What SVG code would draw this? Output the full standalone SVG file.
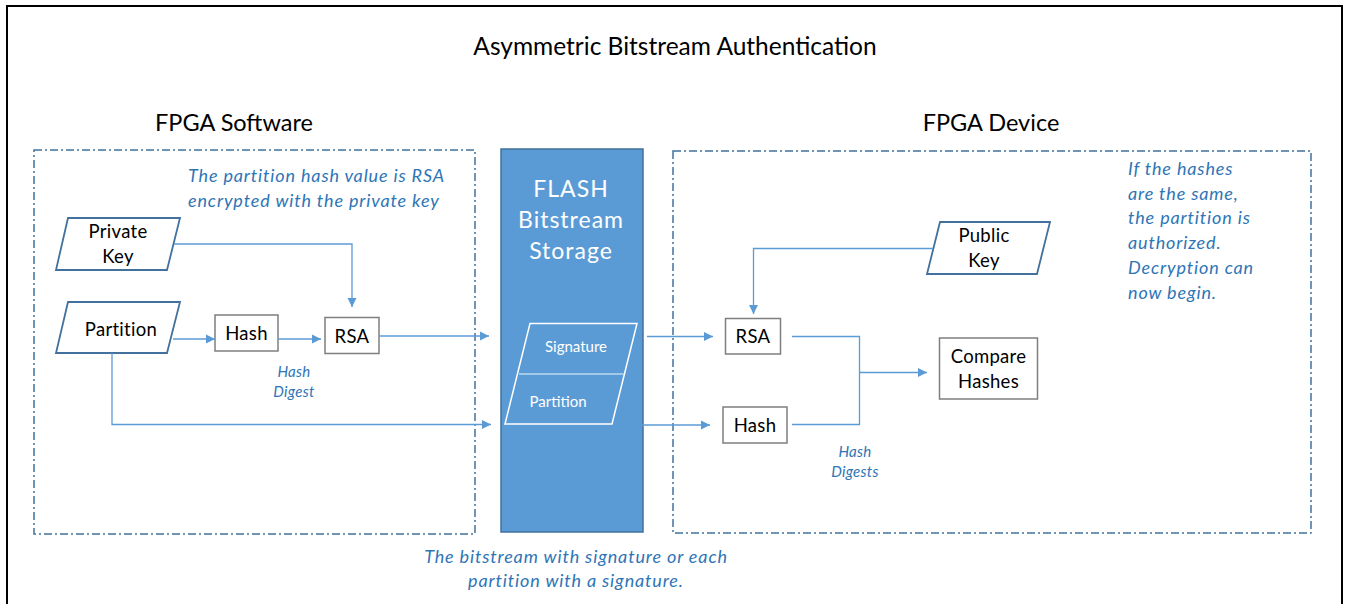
<svg xmlns="http://www.w3.org/2000/svg" width="1347" height="604" viewBox="0 0 1347 604">
<defs>
<style>
.t{font-family:Lato,"Open Sans","Noto Sans",sans-serif;fill:#000}
.n{font-family:Lato,"Open Sans","Noto Sans",sans-serif;font-size:18.5px;letter-spacing:0.3px;fill:#000;text-anchor:middle}
.note{font-family:Lato,"Open Sans","Noto Sans",sans-serif;font-style:italic;fill:#2E75B6;font-size:18px;letter-spacing:0.85px}
.sm{font-size:15px;letter-spacing:0.3px;text-anchor:middle}
.w{font-family:Lato,"Open Sans","Noto Sans",sans-serif;fill:#fff;text-anchor:middle}
.box{fill:#fff;stroke:#7F7F7F;stroke-width:1.5}
.para{fill:#fff;stroke:#41719C;stroke-width:1.8}
.dash{fill:none;stroke:#41719C;stroke-width:1.5;stroke-dasharray:8 3 2 3}
.c{fill:none;stroke:#5B9BD5;stroke-width:1.3}
</style>
<marker id="ah" markerWidth="10" markerHeight="10" refX="9" refY="5" orient="auto" markerUnits="userSpaceOnUse">
<path d="M0,0.5 L9,5 L0,9.5 z" fill="#5B9BD5"/>
</marker>
</defs>
<rect x="0" y="0" width="1347" height="604" fill="#fff"/>
<rect x="7" y="6" width="1335" height="610" fill="none" stroke="#000" stroke-width="2"/>

<text class="t" x="675" y="55" font-size="24.5" text-anchor="middle">Asymmetric Bitstream Authentication</text>

<g id="software">
<rect class="dash" x="34" y="150" width="441" height="384"/>
<text class="t" x="234" y="131" font-size="23.5" text-anchor="middle">FPGA Software</text>
<text class="note"><tspan x="188" y="182">The partition hash value is RSA</tspan><tspan x="188" y="207">encrypted with the private key</tspan></text>
</g>

<g id="device">
<rect class="dash" x="673" y="151" width="638" height="382"/>
<text class="t" x="991" y="131" font-size="23.5" text-anchor="middle">FPGA Device</text>
<text class="note"><tspan x="1128" y="175">If the hashes</tspan><tspan x="1128" y="200">are the same,</tspan><tspan x="1128" y="224">the partition is</tspan><tspan x="1128" y="249">authorized.</tspan><tspan x="1128" y="274">Decryption can</tspan><tspan x="1128" y="299">now begin.</tspan></text>
</g>

<g id="flash">
<rect x="501" y="149" width="142" height="383" fill="#5B9BD5" stroke="#41719C" stroke-width="1.5"/>
<text class="w" font-size="23" letter-spacing="1"><tspan x="571" y="197">FLASH</tspan><tspan x="571" y="228">Bitstream</tspan><tspan x="571" y="259">Storage</tspan></text>
<polygon points="530,323.5 637,323.5 612,424 505,424" fill="none" stroke="#fff" stroke-width="1.5"/>
<line x1="519" y1="374" x2="624" y2="374" stroke="#BDD7EE" stroke-width="1.3"/>
<text class="w" x="576" y="352" font-size="15">Signature</text>
<text class="w" x="558" y="407" font-size="15">Partition</text>
</g>

<g id="private-key">
<polygon class="para" points="68,218 180,218 167,270 56,270"/>
<text class="n"><tspan x="118" y="238">Private</tspan><tspan x="118" y="263">Key</tspan></text>
</g>
<g id="partition">
<polygon class="para" points="68,302 180,302 167,353 56,353"/>
<text class="n" x="121" y="336">Partition</text>
</g>
<g id="hash-sw">
<rect class="box" x="215" y="315" width="63" height="36"/>
<text class="n" x="246.5" y="339.5">Hash</text>
</g>
<g id="rsa-sw">
<rect class="box" x="325" y="317.5" width="54" height="36"/>
<text class="n" x="352" y="342.5">RSA</text>
</g>
<text class="note sm"><tspan x="294" y="377">Hash</tspan><tspan x="294" y="397">Digest</tspan></text>

<g id="public-key">
<polygon class="para" points="940,222 1050,222 1037,274 927,274"/>
<text class="n"><tspan x="984" y="242">Public</tspan><tspan x="984" y="267">Key</tspan></text>
</g>
<g id="rsa-dev">
<rect class="box" x="725.5" y="318.5" width="55" height="35.5"/>
<text class="n" x="753" y="343">RSA</text>
</g>
<g id="hash-dev">
<rect class="box" x="723" y="407" width="64" height="36"/>
<text class="n" x="755" y="431.5">Hash</text>
</g>
<g id="compare">
<rect class="box" x="939.5" y="338" width="98" height="61"/>
<text class="n"><tspan x="988.5" y="363">Compare</tspan><tspan x="988.5" y="387.5">Hashes</tspan></text>
</g>
<text class="note sm"><tspan x="855" y="457">Hash</tspan><tspan x="855" y="477">Digests</tspan></text>

<text class="note" text-anchor="middle"><tspan x="576" y="563">The bitstream with signature or each</tspan><tspan x="576" y="587">partition with a signature.</tspan></text>

<g id="connectors">
<path class="c" d="M174,244 H352 V307" marker-end="url(#ah)"/>
<path class="c" d="M173,339 H215" marker-end="url(#ah)"/>
<path class="c" d="M278,339 H321" marker-end="url(#ah)"/>
<path class="c" d="M379,336 H489" marker-end="url(#ah)"/>
<path class="c" d="M112,353 V424.5 H491" marker-end="url(#ah)"/>
<path class="c" d="M647,336.5 H713" marker-end="url(#ah)"/>
<path class="c" d="M642,425 H710" marker-end="url(#ah)"/>
<path class="c" d="M933,248.5 H753.5 V314" marker-end="url(#ah)"/>
<path class="c" d="M792,336.5 H859.5 V424.5 H792"/>
<path class="c" d="M859.5,372.5 H927" marker-end="url(#ah)"/>
</g>
</svg>
